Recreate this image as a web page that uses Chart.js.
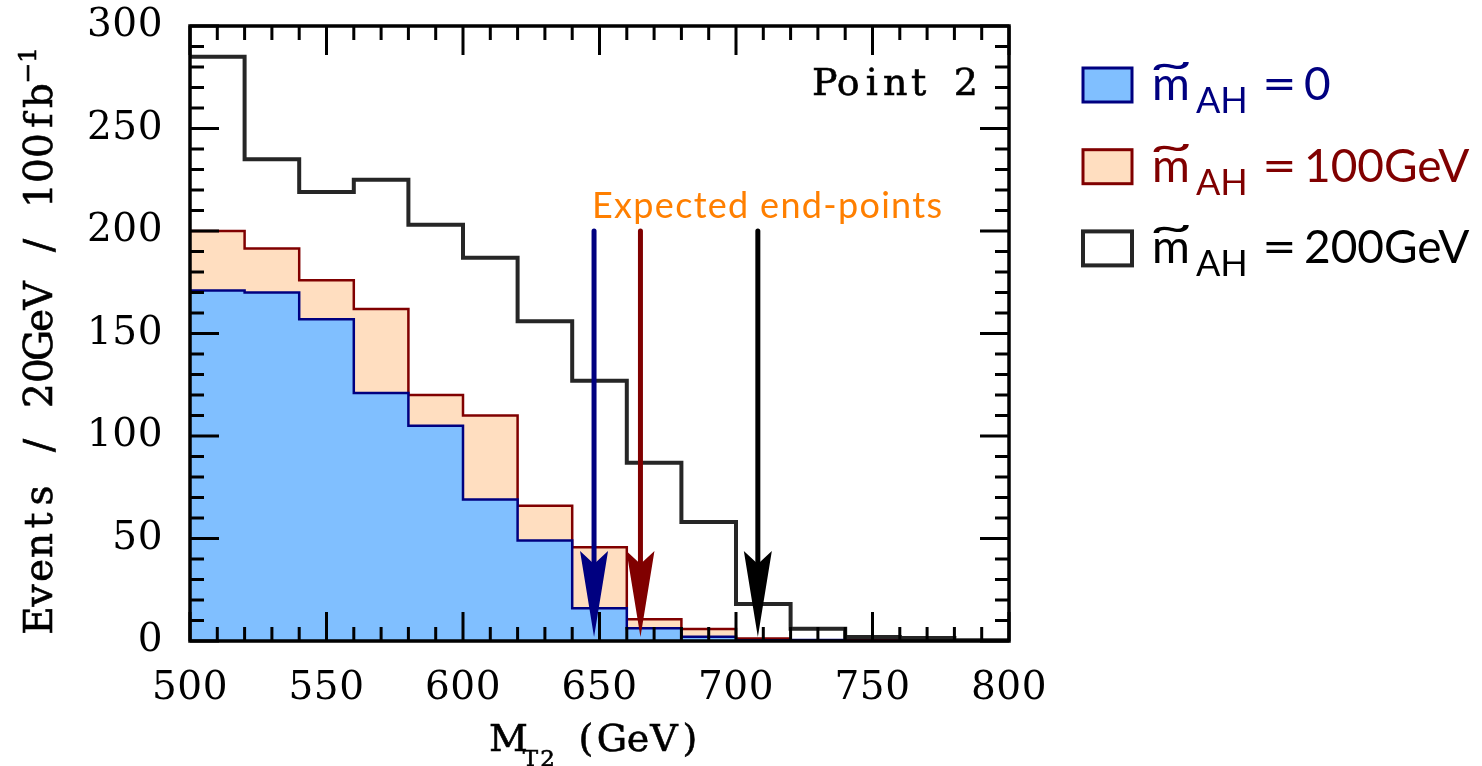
<!DOCTYPE html>
<html>
<head>
<meta charset="utf-8">
<script src="https://cdn.jsdelivr.net/npm/chart.js@4.4.0/dist/chart.umd.min.js"></script>
<style>
  html, body { margin: 0; padding: 0; background: #fff; }
  canvas { display: block; }
</style>
</head>
<body>
<canvas id="mt2" width="1482" height="766"></canvas>
<script>
// bin edges of M_T2 (GeV), 20 GeV bins
const binEdges = [500, 520, 540, 560, 580, 600, 620, 640, 660, 680, 700, 720, 740, 760, 780, 800];
// events / 20GeV / 100fb-1 for each bin
const eventsMass0 = [171, 170, 157, 121, 105, 69, 49, 16, 6.2, 2.1, 0.4, 0.5, 0, 0, 0];
const eventsMass100 = [200, 191.5, 176, 162, 120, 110, 66, 45.7, 10.6, 5.9, 1.2, 0.3, 0.7, 0, 0];
const eventsMass200 = [285, 235, 219, 225, 203, 187, 156, 127, 87, 58, 18, 6, 2, 1.5, 0.4];
// expected end-points (GeV) for the three masses
const endPoints = [648, 665, 708];
const arrowFrom = 200;
const arrowTo = 2;
const legendValues = ['0', '100GeV', '200GeV'];

const navy = '#000080';
const maroon = '#800000';
const ink = '#262626';
const serif = '"DejaVu Serif", serif';
const sans = 'Lato, "Open Sans", sans-serif';

function histPoints(values) {
    const pts = values.map((v, i) => ({ x: binEdges[i], y: v }));
    pts.push({ x: binEdges[binEdges.length - 1], y: values[values.length - 1] });
    return pts;
}

// one glyph per fixed cell, the original uses a typewriter-like face
function spacedText(ctx, text, x, y, pitch) {
    ctx.textAlign = 'center';
    for (let i = 0; i < text.length; i++) {
        ctx.fillText(text[i], x + pitch * (i + 0.5), y);
        ctx.strokeText(text[i], x + pitch * (i + 0.5), y);
    }
    return x + pitch * text.length;
}

const tickSpacing = {
    id: 'tickSpacing',
    beforeDraw(chart) { chart.ctx.letterSpacing = '0.5px'; },
    beforeDatasetsDraw(chart) { chart.ctx.letterSpacing = '0px'; }
};

const endPointArrows = {
    id: 'endPointArrows',
    afterDatasetsDraw(chart) {
        const { ctx, scales: { x, y } } = chart;
        const colors = [navy, maroon, '#000'];
        const yTop = y.getPixelForValue(arrowFrom);
        const yTip = y.getPixelForValue(arrowTo);
        endPoints.forEach((m, i) => {
            const px = x.getPixelForValue(m);
            ctx.save();
            ctx.strokeStyle = colors[i];
            ctx.fillStyle = colors[i];
            ctx.lineWidth = 5;
            ctx.lineCap = 'round';
            ctx.beginPath();
            ctx.moveTo(px, yTop);
            ctx.lineTo(px, yTip - 70);
            ctx.stroke();
            ctx.beginPath();
            ctx.moveTo(px, yTip);
            ctx.lineTo(px - 14, yTip - 86);
            ctx.lineTo(px, yTip - 73);
            ctx.lineTo(px + 14, yTip - 86);
            ctx.closePath();
            ctx.fill();
            ctx.restore();
        });
    }
};

const frameTicks = {
    id: 'frameTicks',
    afterDatasetsDraw(chart) {
        const { ctx, chartArea: { left, right, top, bottom }, scales: { x, y } } = chart;
        ctx.save();
        ctx.strokeStyle = '#000';
        ctx.lineWidth = 3;
        ctx.beginPath();
        for (let v = x.min; v <= x.max; v += 10) {
            const px = x.getPixelForValue(v);
            const len = v % 50 === 0 ? 29 : 14;
            ctx.moveTo(px, bottom); ctx.lineTo(px, bottom - len);
            ctx.moveTo(px, top); ctx.lineTo(px, top + len);
        }
        for (let v = y.min; v <= y.max; v += 10) {
            const py = y.getPixelForValue(v);
            const len = v % 50 === 0 ? 29 : 14;
            ctx.moveTo(left, py); ctx.lineTo(left + len, py);
            ctx.moveTo(right, py); ctx.lineTo(right - len, py);
        }
        ctx.stroke();
        ctx.lineWidth = 3.5;
        ctx.strokeRect(left, top, right - left, bottom - top);
        ctx.restore();
    }
};

const labelsAndLegend = {
    id: 'labelsAndLegend',
    afterDraw(chart) {
        const { ctx } = chart;
        ctx.save();
        ctx.fillStyle = '#000';
        ctx.strokeStyle = '#000';
        ctx.lineWidth = 0.6;
        ctx.textBaseline = 'alphabetic';

        // Point 2
        ctx.font = '38px ' + serif;
        spacedText(ctx, 'Point 2', 813, 95, 23.5);

        // axis titles
        ctx.font = '38px ' + serif;
        let nx = spacedText(ctx, 'M', 495, 751, 27);
        ctx.font = '23px ' + serif;
        spacedText(ctx, 'T2', nx, 766, 17);
        ctx.font = '38px ' + serif;
        spacedText(ctx, '(GeV)', 573, 751, 26);

        ctx.save();
        ctx.translate(52, 633);
        ctx.rotate(-Math.PI / 2);
        ctx.font = '39px ' + serif;
        nx = spacedText(ctx, 'Events / 20GeV / 100fb', 0, 0, 25);
        ctx.font = '25px ' + serif;
        spacedText(ctx, '\u22121', nx + 1, -16, 18);
        ctx.restore();

        // Expected end-points
        ctx.font = '36px ' + sans;
        ctx.fillStyle = '#FF7F00';
        ctx.textAlign = 'left';
        const text = 'Expected end-points';
        const w = ctx.measureText(text).width;
        if ('letterSpacing' in ctx) ctx.letterSpacing = ((350 - w) / (text.length - 1)).toFixed(2) + 'px';
        ctx.fillText(text, 592, 218);
        if ('letterSpacing' in ctx) ctx.letterSpacing = '0px';

        // legend
        const fills = ['#80BFFF', '#FFDEC0', '#fff'];
        const strokes = [navy, maroon, ink];
        const texts = [navy, maroon, '#000'];
        legendValues.forEach((val, i) => {
            const base = 100 + i * 81.7;
            ctx.fillStyle = fills[i];
            ctx.strokeStyle = strokes[i];
            ctx.lineWidth = i === 2 ? 4 : 3;
            ctx.fillRect(1083, base - 32, 49, 34);
            ctx.strokeRect(1083, base - 32, 49, 34);

            ctx.fillStyle = texts[i];
            ctx.textAlign = 'left';
            ctx.font = '46px ' + sans;
            ctx.fillText('m', 1152, base);
            const mw = ctx.measureText('m').width;
            ctx.save();
            ctx.translate(1152 + mw / 2, base - 21);
            ctx.scale(1.9, 1.1);
            ctx.textAlign = 'center';
            ctx.font = '40px ' + sans;
            ctx.fillText('~', 0, 0);
            ctx.restore();
            ctx.font = '36px ' + sans;
            ctx.fillText('AH', 1196, base + 13);
            ctx.save();
            ctx.translate(1262, base);
            ctx.scale(1.3, 1);
            ctx.font = '46px ' + sans;
            ctx.fillText('=', 0, 0);
            ctx.restore();
            ctx.font = '46px ' + sans;
            ctx.fillText(val, 1304, base);
        });
        ctx.restore();
    }
};

new Chart(document.getElementById('mt2'), {
    type: 'line',
    data: {
        datasets: [
            {
                label: 'm_AH = 200GeV',
                data: histPoints(eventsMass200),
                borderColor: ink,
                borderWidth: 4,
                fill: false,
            },
            {
                label: 'm_AH = 0',
                data: histPoints(eventsMass0),
                borderColor: navy,
                backgroundColor: '#80BFFF',
                borderWidth: 2.5,
                fill: 'origin',
            },
            {
                label: 'm_AH = 100GeV',
                data: histPoints(eventsMass100),
                borderColor: maroon,
                backgroundColor: '#FFDEC0',
                borderWidth: 2.5,
                fill: 'origin',
            },
        ],
    },
    options: {
        responsive: false,
        animation: false,
        datasets: {
            line: { stepped: 'before', pointRadius: 0, tension: 0, borderJoinStyle: 'miter' }
        },
        layout: {
            padding: { left: 0, right: 473, top: 26, bottom: 0 }
        },
        plugins: {
            legend: { display: false },
            tooltip: { enabled: false },
        },
        scales: {
            x: {
                type: 'linear',
                min: 500,
                max: 800,
                afterFit(scale) {
                    scale.height = 125;
                    scale.paddingLeft = 0;
                    scale.paddingRight = 0;
                },
                grid: { display: false, drawTicks: false, tickLength: 0 },
                border: { display: false },
                ticks: {
                    stepSize: 50,
                    autoSkip: false,
                    maxRotation: 0,
                    padding: 24,
                    color: '#000',
                    font: { family: 'DejaVu Serif', size: 39 },
                },
            },
            y: {
                min: 0,
                max: 300,
                afterFit(scale) {
                    scale.width = 190;
                    scale.paddingTop = 0;
                    scale.paddingBottom = 0;
                },
                grid: { display: false, drawTicks: false, tickLength: 0 },
                border: { display: false },
                ticks: {
                    stepSize: 50,
                    autoSkip: false,
                    padding: 27,
                    color: '#000',
                    font: { family: 'DejaVu Serif', size: 39 },
                },
            },
        },
    },
    plugins: [tickSpacing, endPointArrows, frameTicks, labelsAndLegend]
});
</script>
</body>
</html>
